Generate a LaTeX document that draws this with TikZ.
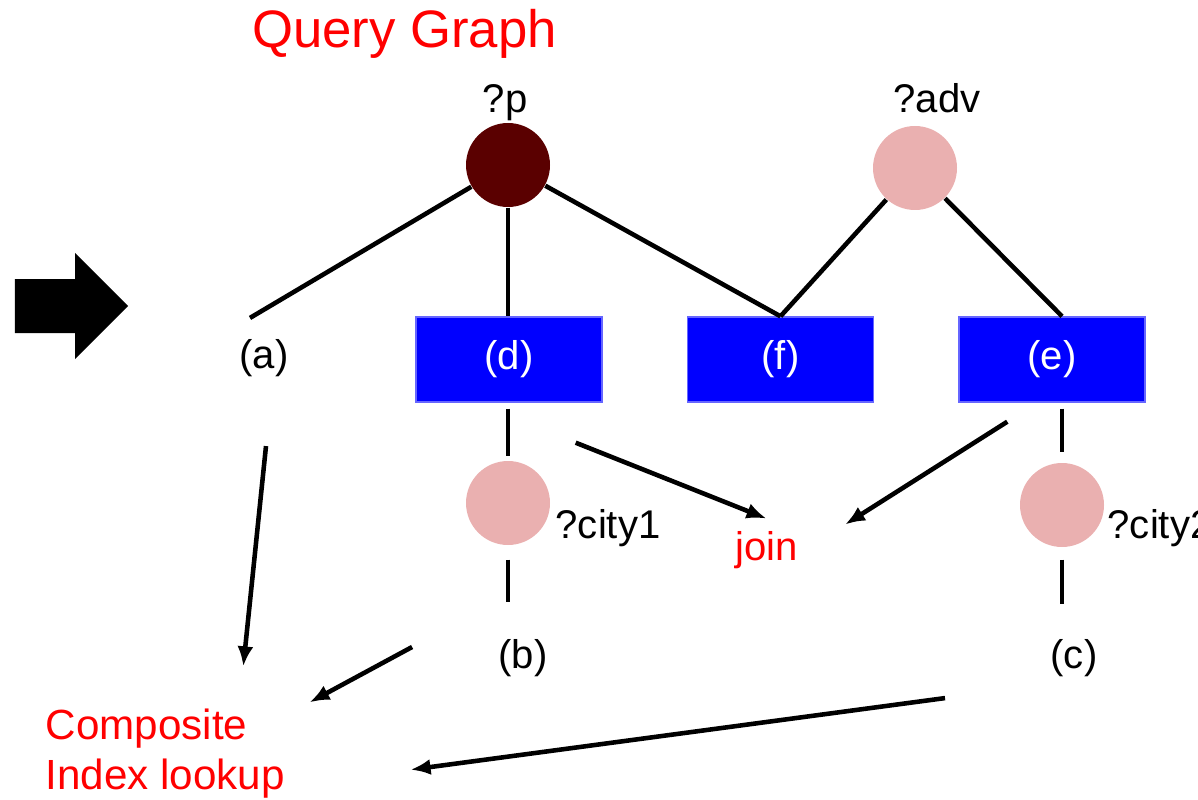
\documentclass[tikz,border=0pt]{standalone}
\usepackage{fontspec}
\setmainfont{Liberation Sans}
\usepackage{tikz}
\usetikzlibrary{arrows.meta,positioning,calc}
\usepackage{xcolor}

\definecolor{vardark}{HTML}{5A0000}
\definecolor{varpink}{HTML}{EAB0B0}
\definecolor{patblue}{HTML}{0000FF}

\newcommand{\lblfont}{\fontsize{11.4}{13.7}\selectfont}

\tikzset{
  >={Latex[length=2mm,width=1.6mm]},
  var/.style={circle, inner sep=0pt, minimum size=0.84cm, fill=varpink},
  varname/.style={font=\lblfont, inner sep=0pt},
  patbox/.style={draw=patblue!60, line width=0.4pt, fill=patblue, text=white,
                 font=\lblfont, minimum width=1.86cm, minimum height=0.85cm},
  link/.style={line width=1.3pt},
  flow/.style={line width=1.3pt, ->}
}

\begin{document}
\begin{tikzpicture}
  \useasboundingbox (0,0) rectangle (11.98,7.99);
  \clip (0,0) rectangle (11.98,7.99);

  \node[red, font=\fontsize{15}{18}\selectfont, anchor=base] (title) at (4.045,7.51) {Query Graph};

  % variables
  \node[var, fill=vardark] (p) at (5.08,6.34) {};
  \node[var] (adv) at (9.15,6.31) {};
  \node[var] (c1) at (5.08,2.96) {};
  \node[var] (c2) at (10.62,2.94) {};
  \node[varname, anchor=base] (p lbl) at (5.05,6.87) {?p};
  \node[varname, anchor=base] (adv lbl) at (9.37,6.87) {?adv};
  \node[varname, anchor=base west] (c1 lbl) at (5.55,2.61) {?city1};
  \node[varname, anchor=base west] (c2 lbl) at (11.07,2.61) {?city2};

  % triple patterns
  \node[font=\lblfont] (a) at (2.64,4.41) {(a)};
  \node[patbox] (d) at (5.09,4.395) {(d)};
  \node[patbox] (f) at (7.805,4.395) {(f)};
  \node[patbox] (e) at (10.52,4.395) {(e)};
  \node[font=\lblfont] (b) at (5.23,1.41) {(b)};
  \node[font=\lblfont] (c) at (10.74,1.41) {(c)};

  \node[red, font=\lblfont, anchor=base] (join) at (7.665,2.39) {join};
  \node[red, align=left, anchor=south west, inner sep=0pt,
        font=\fontsize{12}{14.2}\selectfont] (idx) at (0.45,0) {Composite\\Index lookup};

  % big arrow
  \fill (0.15,5.20) -- (0.75,5.20) -- (0.75,5.46) -- (1.28,4.93)
        -- (0.75,4.40) -- (0.75,4.66) -- (0.15,4.66) -- cycle;

  \draw[link] (p) -- ($(a.north)+(-0.14,0.09)$);
  \draw[link] (p) -- (p |- d.north);
  \draw[link] (p) -- (f.north);
  \draw[link] (adv) -- (f.north);
  \draw[link] (adv) -- (c2 |- e.north);
  \draw[link, shorten <=0.6mm, shorten >=0.4mm] (c1 |- d.south) -- (c1);
  \draw[link, shorten <=1.4mm, shorten >=2.5mm] (c1) -- (c1 |- b.north);
  \draw[link, shorten <=0.6mm, shorten >=1mm] (c2 |- e.south) -- (c2);
  \draw[link, shorten <=1.2mm, shorten >=2.3mm] (c2) -- (c2 |- c.north);

  \draw[flow] ($(d.south east)+(-0.27,-0.40)$) -- (join.north);
  \draw[flow] ($(e.south west)+(0.49,-0.19)$) -- ($(join.north east)+(0.35,-0.06)$);
  \draw[flow] ($(a.south)+(0.02,-0.57)$) -- ($(idx.north)+(0.78,0.42)$);
  \draw[flow] ($(b.west)+(-0.74,0.11)$) -- ($(idx.north east)+(0.24,0.06)$);
  \draw[flow] ($(c.south)+(-1.29,-0.09)$) -- ($(idx.east)+(1.25,-0.16)$);
\end{tikzpicture}
\end{document}
